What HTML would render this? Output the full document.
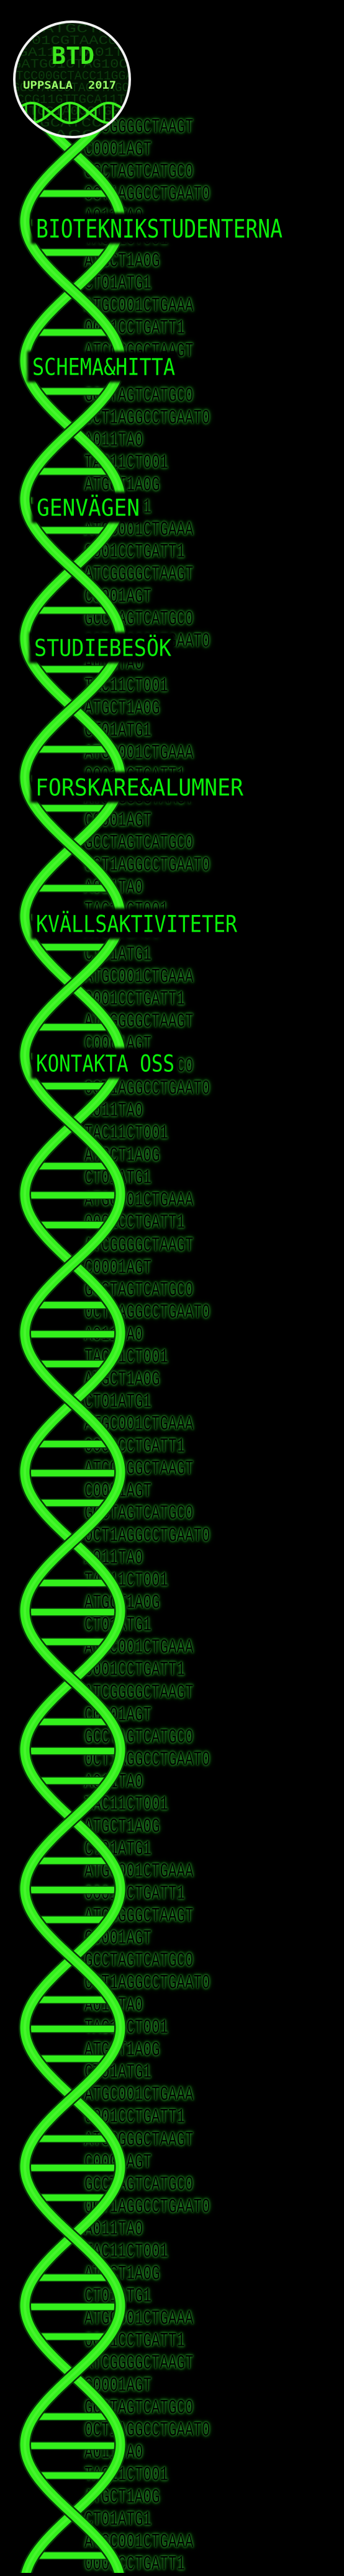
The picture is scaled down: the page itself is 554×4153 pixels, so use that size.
<!DOCTYPE html>
<html><head><meta charset="utf-8">
<style>
html,body{margin:0;padding:0;background:#000;}
body{width:554px;height:4148px;position:relative;overflow:hidden;}
#rows{position:absolute;left:0;top:0;width:554px;height:4148px;}
.r{position:absolute;left:136px;height:22px;line-height:22px;font-family:"Liberation Mono",monospace;font-size:22.5px;color:#000;white-space:pre;transform:scaleY(1.45);transform-origin:0 50%;
text-shadow:0 0 1px #2fa02f,0 0 3px #26902a,0 0 5px #1c7a1c,0 0 8px #156015;}
svg{position:absolute;left:0;top:0;}
</style></head>
<body>
<div id="rows"></div>
<svg id="s" width="554" height="4148" viewBox="0 0 554 4148">
<defs>
<clipPath id="lc"><circle cx="116" cy="128" r="92"/></clipPath>
<filter id="bb" x="-10%" y="-30%" width="120%" height="160%"><feGaussianBlur stdDeviation="2"/></filter>
</defs>
<g id="helix"></g>
<g id="menu"></g>
<g id="logo"></g>
</svg>
<script>
var seqs=["ATCGGGGCTAAGT","C0001AGT","GCCTAGTCATGC0","0CT1AGGCCTGAAT0","A011TA0","TAC11CT001","ATGCT1A0G","CT01ATG1","ATGC001CTGAAA","0001CCTGATT1"];
var rows=document.getElementById('rows');
for(var i=0;i<110;i++){
  var yc=205+36.05*i; if(yc>4160)break;
  var d=document.createElement('div');
  d.className='r';
  d.style.top=(yc-11)+'px';
  d.textContent=seqs[i%10];
  
  
  rows.appendChild(d);
}
var NS='http://www.w3.org/2000/svg';
function el(t,a,p){var e=document.createElementNS(NS,t);for(var k in a)e.setAttribute(k,a[k]);p.appendChild(e);return e;}
var H=document.getElementById('helix');
var C=117,A=77,P=224,Y0=245;
function sx(y,s){return C+s*A*Math.sin(Math.PI*(y-Y0)/P);}
// rungs
for(var k=-1;k<18;k++){
  [67,114,162].forEach(function(o){
    var y=Y0+P*k+o; if(y>4160)return;
    var hw=A*Math.abs(Math.sin(Math.PI*o/P))-7;
    var r=el('rect',{x:C-hw,y:y-6,width:2*hw,height:12,fill:'#33f01c',stroke:'#0b3d0b','stroke-width':1.5},H);
    
    
  });
}
[1,-1].forEach(function(s){
  var d='';
  for(var y=140;y<=4160;y+=3){d+=(y==140?'M':'L')+sx(y,s).toFixed(1)+','+y+' ';}
  el('path',{d:d,fill:'none',stroke:'#083808','stroke-width':20},H);
  var p=el('path',{d:d,fill:'none',stroke:'#33f01c','stroke-width':15},H);
  
  
  el('path',{d:d,fill:'none',stroke:'#6cff50','stroke-width':4,opacity:0.35},H);
});
// menu
var M=document.getElementById('menu');
var items=[["BIOTEKNIKSTUDENTERNA",58,455,368,30],["SCHEMA&HITTA",52,282,591,27],["GENVÄGEN",59,225,818,27],["STUDIEBESÖK",55,276,1044,27],["FORSKARE&ALUMNER",57,392,1269,27],["KVÄLLSAKTIVITETER",58,382,1489,27],["KONTAKTA OSS",58,281,1714,27]];
items.forEach(function(it){
  var g=el('g',{},M);
  
  
  el('rect',{x:it[1]-8,y:it[3]-25,width:it[2]-it[1]+14,height:50,fill:'#000',filter:'url(#bb)'},g);
  var t=el('text',{x:it[1],y:it[3]+it[4]/2,'font-family':'DejaVu Sans Mono, Liberation Mono, monospace','font-size':it[4]/0.73,fill:'#0af00a',textLength:it[2]-it[1],lengthAdjust:'spacingAndGlyphs'},g);
  t.textContent=it[0];
});
// logo
var L=document.getElementById('logo');
el('circle',{cx:116,cy:128,r:93,fill:'#021202'},L);
var lg=el('g',{'clip-path':'url(#lc)'},L);
var bg=["GCGATGCTAGC","TT01CGTAAC00G","GGA11GTTA01TC","GATG01CTAG10CG","GTCC00GCTACC11GGA","GGCTAGCCTAGCTAGCA","TCCG11GTTGCA11TC","CATGC1A0GCTG0AT","AC0GCATCC0AC","TAGACGTCG"];
for(var i=0;i<bg.length;i++){
  var t=el('text',{x:i%2?20:14,y:52+i*19,'font-family':'Liberation Mono, monospace','font-size':20,fill:'#0c3a0c',textLength:200,lengthAdjust:'spacingAndGlyphs'},lg);
  t.textContent=bg[i];
}
var t1=el('text',{x:83,y:103,'font-family':'DejaVu Sans Mono, monospace','font-weight':'bold','font-size':38,fill:'#3ee81e',textLength:69,lengthAdjust:'spacingAndGlyphs'},lg);
t1.textContent='BTD';


var t2=el('text',{x:37,y:143,'font-family':'DejaVu Sans Mono, monospace','font-weight':'bold','font-size':17,fill:'#9cff6a',textLength:80,lengthAdjust:'spacingAndGlyphs'},lg);
t2.textContent='UPPSALA';
var t3=el('text',{x:142,y:143,'font-family':'DejaVu Sans Mono, monospace','font-weight':'bold','font-size':17,fill:'#9cff6a',textLength:45,lengthAdjust:'spacingAndGlyphs'},lg);
t3.textContent='2017';
// small helix in logo
var d1='',d2='';
for(var x=15;x<=220;x+=3){var yy=182+16*Math.sin((x-20)*Math.PI/62);var y2=182-16*Math.sin((x-20)*Math.PI/62);d1+=(x==15?'M':'L')+x+','+yy.toFixed(1)+' ';d2+=(x==15?'M':'L')+x+','+y2.toFixed(1)+' ';}
for(var x=28;x<=210;x+=14){var a=182+16*Math.sin((x-20)*Math.PI/62),b=182-16*Math.sin((x-20)*Math.PI/62);if(Math.abs(a-b)>6)el('line',{x1:x,y1:a,x2:x,y2:b,stroke:'#2ed81a','stroke-width':3},lg);}
el('path',{d:d1,fill:'none',stroke:'#3af01e','stroke-width':4},lg);
el('path',{d:d2,fill:'none',stroke:'#3af01e','stroke-width':4},lg);
el('circle',{cx:116,cy:128,r:93,fill:'none',stroke:'#f2f2f2','stroke-width':4},L);
</script>
</body></html>
